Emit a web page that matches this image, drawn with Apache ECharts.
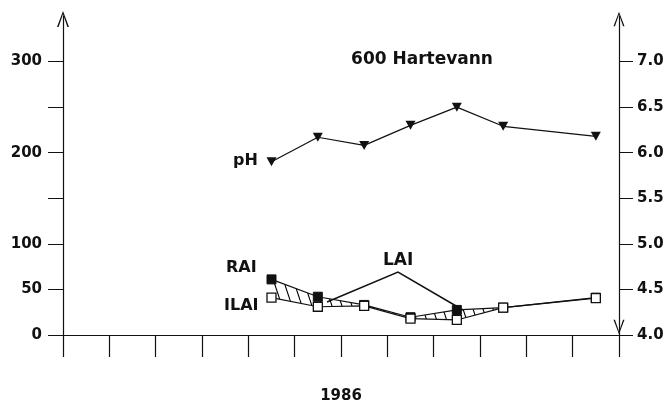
<!DOCTYPE html>
<html><head><meta charset="utf-8">
<script src="https://cdn.jsdelivr.net/npm/echarts@6/dist/echarts.min.js"></script>
<style>html,body{margin:0;padding:0;background:#fff}#c{width:665px;height:407px}</style>
</head><body><div id="c"></div>
<script>
// ---- data ----
const months = ['Jan','Feb','Mar','Apr','May','Jun','Jul','Aug','Sep','Oct','Nov','Dec'];
const sampleMonthIndex = [4, 5, 6, 7, 8, 9, 11];
const raiValues  = [61, 42, 33, 19.5, 27.5, 30, 41];
const ilaiValues = [41, 31, 32, 18, 16.5, 30, 40.5];
const phValues   = [5.90, 6.17, 6.08, 6.30, 6.50, 6.29, 6.18];
const leftLabelValues  = [0, 50, 100, 200, 300];
const leftTickValues   = [0, 50, 100, 150, 200, 250, 300];
const rightTickValues  = [4.0, 4.5, 5.0, 5.5, 6.0, 6.5, 7.0];
const titleText = '600 Hartevann';
const yearText = '1986';

// ---- helpers ----
const xs = sampleMonthIndex.map(i => i + 0.5);
const pair = vals => vals.map((v, i) => [xs[i], v]);
const bandSegments = xs.slice(0, -1).map((x, i) =>
  [x, raiValues[i], xs[i + 1], raiValues[i + 1], ilaiValues[i], ilaiValues[i + 1]]);

const hatch = document.createElement('canvas');
hatch.width = 10; hatch.height = 30;
(function () {
  const g = hatch.getContext('2d');
  g.strokeStyle = '#000'; g.lineWidth = 1.1;
  [-10, 0, 10].forEach(o => { g.beginPath(); g.moveTo(o, 0); g.lineTo(o + 10, 30); g.stroke(); });
})();

const FONT = 'DejaVu Sans';
const chevron = 'path://M0,16 L6,0 L12,16 L10.4,16 L6,3.2 L1.6,16 Z';
const black = '#111';

const chart = echarts.init(document.getElementById('c'));
chart.setOption({
  backgroundColor: '#fff',
  animation: false,
  title: {
    text: titleText, left: 417, top: 46, textAlign: 'center',
    textStyle: { fontFamily: FONT, fontWeight: 'bold', fontSize: 17, color: black }
  },
  grid: { left: 63, right: 46, top: 16, bottom: 72, containLabel: false, outerBoundsMode: 'none' },
  xAxis: {
    type: 'value', min: 0, max: months.length, interval: 1,
    name: yearText, nameLocation: 'middle', nameGap: 54,
    nameTextStyle: { fontFamily: FONT, fontWeight: 'bold', fontSize: 15, color: black },
    axisLine: { lineStyle: { color: black, width: 1 } },
    axisTick: { show: true, length: 22, lineStyle: { color: black, width: 1.2 } },
    axisLabel: { show: false },
    splitLine: { show: false }
  },
  yAxis: [{
    type: 'value', min: 0, max: 350, interval: 50, position: 'left',
    axisLine: { show: true, symbol: ['none', chevron], symbolSize: [12, 17], symbolOffset: [0, -3],
      lineStyle: { color: black, width: 1.2 } },
    axisTick: { show: true, length: 15, customValues: leftTickValues, lineStyle: { color: black } },
    axisLabel: { customValues: leftLabelValues, margin: 21, fontFamily: FONT, fontWeight: 'bold', fontSize: 15, color: black },
    splitLine: { show: false }
  }, {
    type: 'value', min: 4.0, max: 7.5, interval: 0.5, position: 'right',
    axisLine: { show: true, symbol: [chevron, chevron], symbolSize: [11, 16], symbolOffset: [8, -3],
      lineStyle: { color: black, width: 1.2 } },
    axisTick: { show: true, length: 14, customValues: rightTickValues, lineStyle: { color: black } },
    axisLabel: { customValues: rightTickValues, margin: 18, fontFamily: FONT, fontWeight: 'bold', fontSize: 15, color: black,
      formatter: v => v.toFixed(1) },
    splitLine: { show: false }
  }],
  series: [
    { type: 'custom', data: bandSegments, silent: true, z: 1,
      encode: { x: [0, 2], y: [1, 3, 4, 5] },
      renderItem: (params, api) => {
        const p1 = api.coord([api.value(0), api.value(1)]);
        const p2 = api.coord([api.value(2), api.value(3)]);
        const p3 = api.coord([api.value(2), api.value(5)]);
        const p4 = api.coord([api.value(0), api.value(4)]);
        return { type: 'polygon', shape: { points: [p1, p2, p3, p4] },
          style: { fill: { image: hatch, repeat: 'repeat' }, stroke: null } };
      } },
    { name: 'RAI', type: 'line', data: pair(raiValues), symbol: 'rect', symbolSize: 9,
      itemStyle: { color: black, borderColor: black, borderWidth: 1 }, lineStyle: { color: black, width: 1.2 }, z: 3 },
    { name: 'ILAI', type: 'line', data: pair(ilaiValues), symbol: 'rect', symbolSize: 9,
      itemStyle: { color: '#fff', borderColor: black, borderWidth: 1.3 }, lineStyle: { color: black, width: 1.2 }, z: 4 },
    { name: 'pH', type: 'line', yAxisIndex: 1, data: pair(phValues), symbol: 'triangle', symbolRotate: 180, symbolSize: [10, 9],
      itemStyle: { color: black }, lineStyle: { color: black, width: 1.2 }, z: 5 }
  ],
  graphic: [
    { type: 'text', left: 233, top: 153, style: { text: 'pH', font: 'bold 16px "DejaVu Sans"', fill: black } },
    { type: 'text', left: 226, top: 260, style: { text: 'RAI', font: 'bold 16px "DejaVu Sans"', fill: black } },
    { type: 'text', left: 224, top: 298, style: { text: 'ILAI', font: 'bold 16px "DejaVu Sans"', fill: black } },
    { type: 'text', left: 383, top: 252, style: { text: 'LAI', font: 'bold 17px "DejaVu Sans"', fill: black } },
    { type: 'polyline', shape: { points: [[327, 302], [398, 272], [463, 310]] }, style: { stroke: black, lineWidth: 1.5, fill: null } }
  ]
});
</script></body></html>
